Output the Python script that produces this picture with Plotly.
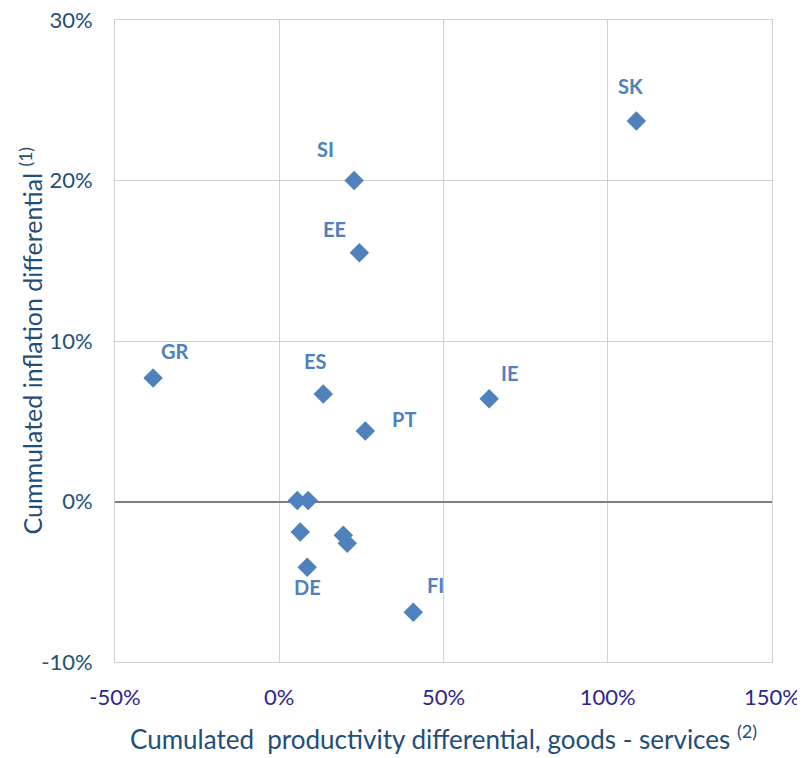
import plotly.graph_objects as go

# Data (percent)
productivity = [108.7, 22.8, 24.4, -38.4, 13.4, 63.9, 26.2, 5.5, 8.8, 6.4, 19.5, 20.7, 8.5, 40.8]
inflation = [23.7, 20.0, 15.5, 7.7, 6.7, 6.4, 4.4, 0.06, 0.06, -1.9, -2.1, -2.6, -4.1, -6.9]
labels = ["SK", "SI", "EE", "GR", "ES", "IE", "PT", "", "", "", "", "", "DE", "FI"]

x_ticks = [-50, 0, 50, 100, 150]
x_tick_text = ["-50%", "0%", "50%", "100%", "150%"]
y_ticks = [-10, 0, 10, 20, 30]
y_tick_text = ["-10%", "0%", "10%", "20%", "30%"]

x_title = "Cumulated  productivity differential, goods - services <sup>(2)</sup>"
y_title = "Cummulated inflation differential <sup>(1)</sup>"

# label offsets in pixels (styling)
offsets = {"SK": (-6, 35), "SI": (-29, 32), "EE": (-25, 24), "GR": (22, 27),
           "ES": (-8, 33), "IE": (20, 26), "PT": (39, 12), "DE": (0, -20), "FI": (22, 27)}

marker_color = "#4F81BD"
font_family = "Lato, 'Open Sans', sans-serif"

fig = go.Figure()
fig.add_trace(go.Scatter(
    x=productivity, y=inflation, mode="markers",
    marker=dict(symbol="diamond", size=15, color=marker_color),
    hoverinfo="skip", showlegend=False,
))

for x, y, lab in zip(productivity, inflation, labels):
    if not lab:
        continue
    dx, dy = offsets[lab]
    fig.add_annotation(x=x, y=y, text="<b>%s</b>" % lab, showarrow=False,
                       xshift=dx, yshift=dy,
                       font=dict(family=font_family, size=20, color=marker_color))

# axis titles
fig.add_annotation(xref="paper", yref="paper", x=0.5, y=0, yshift=-95,
                   text=x_title, showarrow=False,
                   font=dict(family=font_family, size=26, color="#1F4E79"))
fig.add_annotation(xref="paper", yref="paper", x=0, y=0.5, xshift=-103,
                   text=y_title, showarrow=False, textangle=-90,
                   font=dict(family=font_family, size=25, color="#1F4E79"))

fig.update_layout(
    width=805, height=758,
    margin=dict(l=107, r=41, t=12, b=104),
    plot_bgcolor="white", paper_bgcolor="white",
    font=dict(family=font_family),
    xaxis=dict(range=[-50, 150], tickvals=x_ticks, ticktext=x_tick_text,
               showgrid=True, gridcolor="#D0D0D0", gridwidth=1,
               zeroline=False, showline=True, linecolor="#D0D0D0", mirror=True,
               tickfont=dict(size=22, color="#2E2590"), ticks="",
               ticklabelstandoff=16, automargin=False, ticklabeloverflow="allow"),
    yaxis=dict(range=[-10, 30], tickvals=y_ticks, ticktext=y_tick_text,
               showgrid=True, gridcolor="#D0D0D0", gridwidth=1,
               zeroline=True, zerolinecolor="#7F7F7F", zerolinewidth=1.5,
               showline=True, linecolor="#D0D0D0", mirror=True,
               tickfont=dict(size=22, color="#1F4E79"), ticks="",
               ticklabelstandoff=17, automargin=False, ticklabeloverflow="allow"),
)

fig.write_html("out.html")
